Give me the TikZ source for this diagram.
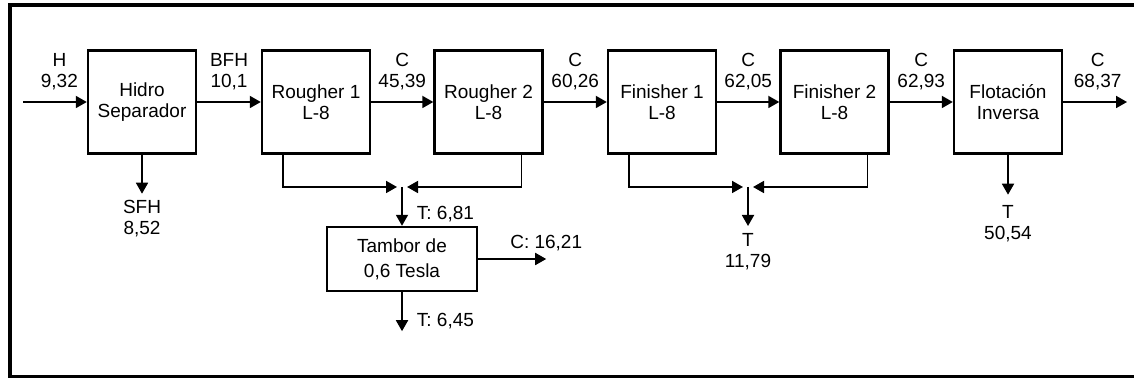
\documentclass[tikz,border=0pt]{standalone}
\usepackage{fontspec}
\setmainfont{Liberation Sans}
\usetikzlibrary{arrows.meta,positioning}

\tikzset{
  unit/.style={draw,line width=1.2pt,minimum width=54pt,minimum height=51.5pt,inner sep=0pt,align=center},
  flow/.style={line width=0.9pt,-{Triangle[length=5.5pt,width=6pt]}},
  lbl/.style={inner sep=0pt,align=center},
}

\begin{document}
\begin{tikzpicture}[x=0.5pt,y=-0.5pt,font=\fontsize{9.5}{10.5}\selectfont]
  \clip (0,0) rectangle (1134,378);
  \draw[line width=1.6pt] (10,5) rectangle (1150,376.5);
  \foreach \n/\x/\t in {hid/142/{Hidro\\Separador}, r1/316/{Rougher 1\\L-8}, r2/488.5/{Rougher 2\\L-8},
      f1/662/{Finisher 1\\L-8}, f2/834.5/{Finisher 2\\L-8}, flot/1008/{Flotación\\Inversa}}
    \node[unit] (\n) at (\x,102) {\t};
  \node[unit,minimum width=75pt,minimum height=32pt] (tam) at (402,259) {Tambor de\\[2pt]0,6 Tesla};

  \coordinate (in) at (23,102);
  \coordinate (out) at (1127,102);
  \coordinate (j1) at (402,187);
  \coordinate (j2) at (748,187);

  \draw[flow] (in) -- node[lbl,pos=0.57,above=5.5pt] (lh) {H\\9,32} (hid);
  \foreach \a/\b/\l in {hid/r1/{BFH\\10,1}, r1/r2/{C\\45,39}, r2/f1/{C\\60,26}, f1/f2/{C\\62,05}, f2/flot/{C\\62,93}}
    \draw[flow] (\a) -- node[lbl,above=5.5pt] (l\b) {\l} (\b);
  \draw[flow] (flot) -- node[lbl,pos=0.54,above=5.5pt] (lout) {C\\68,37} (out);

  \draw[flow] (hid.south) -- ++(0,39) node[lbl,below=3pt] (lsfh) {SFH\\8,52};
  \draw[flow] (flot.south) -- ++(0,40) node[lbl,below=5pt] (lflot) {T\\50,54};

  \draw[flow] ([xshift=-16.5pt]r1.south) |- ([xshift=-2.5pt]j1);
  \draw[flow] ([xshift=16.5pt]r2.south) |- ([xshift=2.5pt]j1);
  \draw[flow] (j1) -- node[lbl,pos=0.7,right=7pt] (lt1) {T: 6,81} (tam);
  \draw[flow] (tam.east) -- ++(68,0) node[lbl,above=3.5pt] (lc) {C: 16,21};
  \draw[flow] (tam.south) -- node[lbl,pos=0.74,right=7pt] (lt2) {T: 6,45} ++(0,39);

  \draw[flow] ([xshift=-16.5pt]f1.south) |- ([xshift=-2.5pt]j2);
  \draw[flow] ([xshift=16.5pt]f2.south) |- ([xshift=2.5pt]j2);
  \draw[flow] (j2) -- ++(0,39) node[lbl,below=3.5pt] (lt3) {T\\11,79};
\end{tikzpicture}
\end{document}
